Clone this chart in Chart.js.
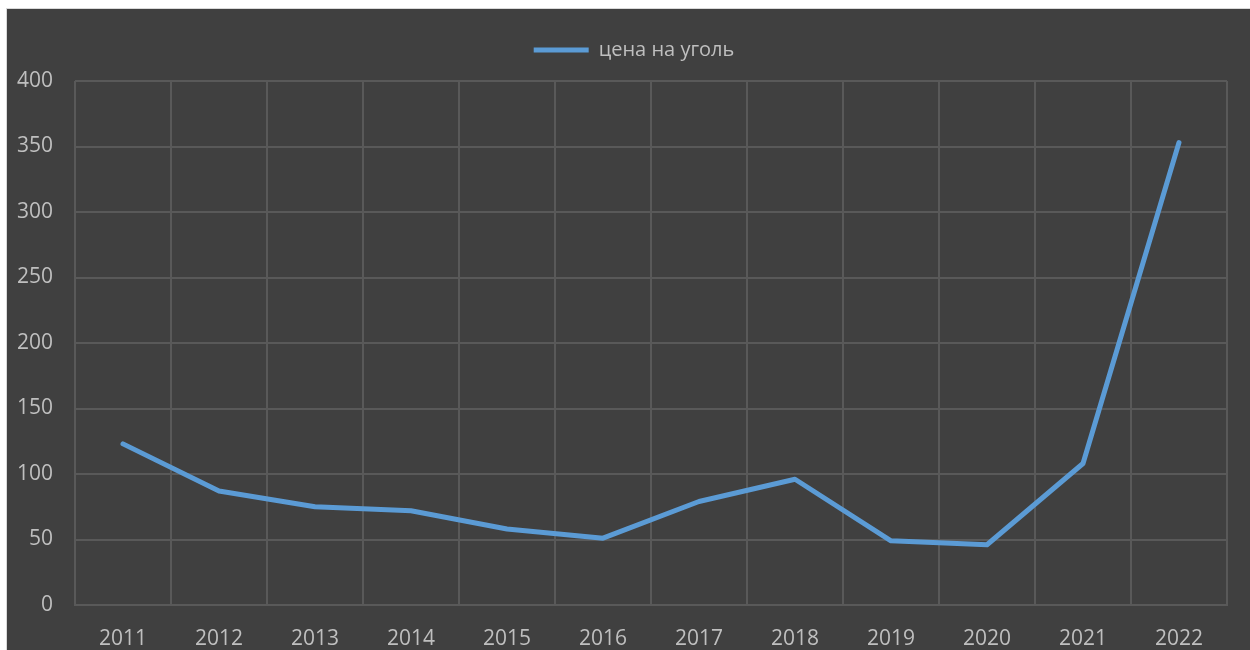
<!DOCTYPE html>
<html>
<head>
<meta charset="utf-8">
<script src="https://cdn.jsdelivr.net/npm/chart.js@4"></script>
<style>
  html, body { margin: 0; padding: 0; background: #ffffff; }
  #frame {
    position: absolute; left: 6px; top: 8px;
    width: 1243px; height: 641px;
    border-top: 1px solid #d9d9d9; border-left: 1px solid #d9d9d9;
    background: #404040;
  }
  #coalChart { display: block; }
</style>
</head>
<body>
<div id="frame"><canvas id="coalChart" width="1243" height="641"></canvas></div>
<script>
// data
const years = ['2011', '2012', '2013', '2014', '2015', '2016', '2017', '2018', '2019', '2020', '2021', '2022'];
const coalPrice = [123, 87, 75, 72, 58, 51, 79, 96, 49, 46, 108, 353];
const seriesLabel = 'цена на уголь';

const lineColor = '#5b9bd5';
const textColor = '#bfbfbf';
const gridColor = '#595959';
const fontFace = { family: 'Open Sans', size: 21 };

// extra space under the legend, and nudge it right a bit
const legendGap = {
    id: 'legendGap',
    beforeInit(chart) {
        const origFit = chart.legend.fit;
        chart.legend.fit = function fit() {
            origFit.bind(chart.legend)();
            this.height += 11;
        };
    },
    afterLayout(chart) {
        chart.legend.left += 17;
        chart.legend.right += 17;
    }
};

document.addEventListener('DOMContentLoaded', () => {
    const ctx = document.getElementById('coalChart').getContext('2d');

    new Chart(ctx, {
        type: 'line',
        data: {
            labels: years,
            datasets: [{
                label: seriesLabel,
                data: coalPrice,
                borderColor: lineColor,
                backgroundColor: lineColor,
                borderWidth: 5,
                borderCapStyle: 'round',
                borderJoinStyle: 'round',
                tension: 0,
                pointRadius: 0,
                fill: false
            }]
        },
        plugins: [legendGap],
        options: {
            responsive: false,
            animation: false,
            layout: { padding: { left: 0, right: 23, top: 21, bottom: 0 } },
            plugins: {
                tooltip: { enabled: false },
                legend: {
                    position: 'top',
                    labels: {
                        color: textColor,
                        font: { family: 'Open Sans', size: 20 },
                        boxWidth: 55,
                        boxHeight: 5,
                        padding: 10,
                        generateLabels: (chart) => [{
                            text: seriesLabel,
                            fillStyle: lineColor,
                            strokeStyle: lineColor,
                            lineWidth: 0,
                            fontColor: textColor,
                            datasetIndex: 0
                        }]
                    }
                }
            },
            scales: {
                x: {
                    offset: true,
                    afterFit: (scale) => { scale.height = 45; },
                    grid: { color: gridColor, lineWidth: 2, offset: true, drawTicks: false },
                    border: { color: gridColor, width: 2 },
                    ticks: { color: textColor, font: fontFace, padding: 21, maxRotation: 0 }
                },
                y: {
                    min: 0,
                    max: 400,
                    afterFit: (scale) => { scale.width = 68; },
                    grid: { color: gridColor, lineWidth: 2, drawTicks: false },
                    border: { display: false },
                    ticks: { stepSize: 50, color: textColor, font: fontFace, padding: 22 }
                }
            }
        }
    });
});
</script>
</body>
</html>
